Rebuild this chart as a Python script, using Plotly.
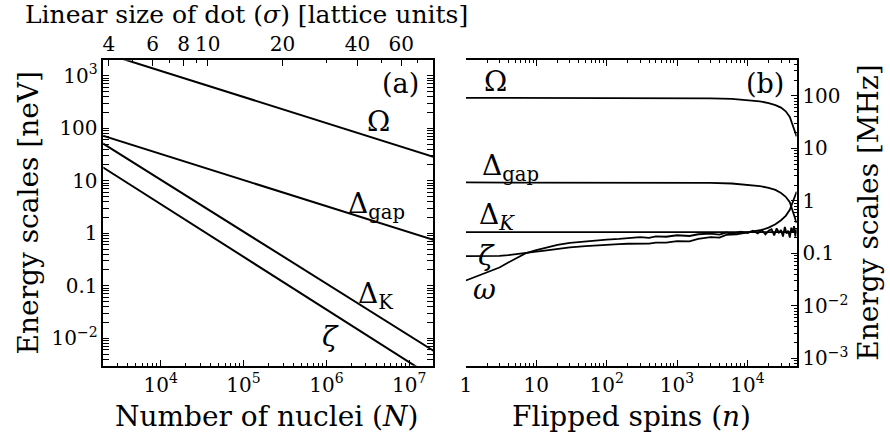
import plotly.graph_objects as go

W, H = 890, 438
FONT = "DejaVu Serif"

# ---------------- Panel (a): energy scales vs number of nuclei (neV) ----------------
N_nuclei = [2.0e3, 1.0e4, 1.0e5, 1.0e6, 1.0e7, 2.0e7]
Omega_a = [2760, 1242, 395, 126, 39.9, 28.3]
Dgap_a = [72.3, 32.5, 10.3, 3.28, 1.04, 0.74]
DK_a = [51.6, 10.5, 1.07, 0.110, 0.0112, 0.00566]
zeta_a = [18.1, 3.59, 0.356, 0.0352, 0.00349, 0.00174]

# top axis: linear size of dot sigma, N ~ 37 sigma^3
NUCLEI_PER_SIGMA3 = 37
sigma_major = [4, 6, 8, 10, 20, 40, 60]
sigma_minor = [5, 7, 9, 30, 50, 70]

# ---------------- Panel (b): energy scales vs flipped spins (MHz) ----------------
n_flip = [1, 10, 100, 1000, 3000, 6000, 10000, 15000, 20000, 25000, 30000, 35000,
          40000, 44000, 47000, 50000]
Omega_b = [92, 92, 92, 91.5, 90, 88, 84, 79, 73, 67, 60, 51, 40, 27, 20, 17]
Dgap_b = [2.25, 2.25, 2.25, 2.24, 2.2, 2.15, 2.05, 1.92, 1.78, 1.62, 1.42, 1.2,
          0.95, 0.62, 0.45, 0.38]
DK_n = [1, 50000]
DK_b = [0.254, 0.254]

zeta_n = [1, 2, 3, 4, 5, 7, 10, 15, 20, 30, 50, 70, 100, 150, 200, 300, 400, 500, 700,
          1000, 1500, 2000, 3000, 4000, 5000, 7000, 10000, 13000, 16000, 20000, 25000,
          30000, 35000, 40000, 43000, 45000, 47000, 50000]
zeta_b = [0.089, 0.089, 0.090, 0.093, 0.096, 0.103, 0.108, 0.116, 0.122, 0.130, 0.138,
          0.143, 0.148, 0.150, 0.153, 0.156, 0.154, 0.161, 0.160, 0.172, 0.170, 0.19,
          0.205, 0.20, 0.225, 0.232, 0.25, 0.262, 0.28, 0.31, 0.36, 0.43, 0.52, 0.68,
          0.9, 1.1, 1.3, 1.5]

omega_n = [1, 1.5, 2, 3, 4, 5, 7, 10, 15, 20, 30, 50, 70, 100, 150, 200, 300, 400, 500,
           700, 1000, 1500, 2000, 3000, 4000, 5000, 6000, 8000, 10000, 12000, 14000,
           16000, 18000, 20000, 22000, 24000, 26000, 28000, 30000, 32000, 34000, 36000,
           38000, 40000, 42000, 44000, 46000, 48000, 50000]
omega_b = [0.0305, 0.0375, 0.043, 0.054, 0.067, 0.079, 0.100, 0.116, 0.135, 0.146, 0.159,
           0.170, 0.178, 0.184, 0.190, 0.196, 0.205, 0.198, 0.212, 0.208, 0.222, 0.215,
           0.232, 0.238, 0.228, 0.250, 0.236, 0.260, 0.245, 0.27, 0.24, 0.28, 0.23, 0.27,
           0.29, 0.22, 0.30, 0.25, 0.28, 0.21, 0.32, 0.24, 0.27, 0.20, 0.31, 0.25, 0.33,
           0.21, 0.29]

LOG_NEV_TO_MHZ = -0.61547  # 1 neV = 0.2418 MHz

# ---------------- geometry ----------------
def px(x):
    return x / W

def py(y):
    return 1 - y / H

AX_TOP, AX_BOT = 61, 370
A_L, A_R = 98, 430
B_L, B_R = 463, 796
XA_DOM = [px(A_L), px(A_R)]
XB_DOM = [px(B_L), px(B_R)]
Y_DOM = [py(AX_BOT), py(AX_TOP)]

ylog_range = [-2.525, 3.295]
ylog_range_mhz = [v + LOG_NEV_TO_MHZ for v in ylog_range]
xa_range = [3.308, 7.288]

def minor_vals(lo, hi):
    out = []
    for e in range(lo, hi + 1):
        for k in range(2, 10):
            out.append(k * 10 ** e)
    return out

line_style = dict(color="black", width=2)
tickfont = dict(family=FONT, size=20, color="black")

fig = go.Figure()

for ys in [Omega_a, Dgap_a, DK_a, zeta_a]:
    fig.add_trace(go.Scatter(x=N_nuclei, y=ys, mode="lines", line=line_style,
                             xaxis="x", yaxis="y", showlegend=False, hoverinfo="skip"))
# invisible copy to bind the top (sigma) axis
fig.add_trace(go.Scatter(x=N_nuclei, y=Omega_a, mode="lines", opacity=0,
                         line=dict(width=0), xaxis="x2", yaxis="y",
                         showlegend=False, hoverinfo="skip"))

for xs, ys in [(n_flip, Omega_b), (n_flip, Dgap_b), (DK_n, DK_b),
               (zeta_n, zeta_b), (omega_n, omega_b)]:
    fig.add_trace(go.Scatter(x=xs, y=ys, mode="lines", line=dict(color="black", width=1.8),
                             xaxis="x3", yaxis="y4", showlegend=False, hoverinfo="skip"))

common = dict(showgrid=False, zeroline=False, showline=True, linecolor="black",
              linewidth=1.5, ticks="inside", tickcolor="black", tickwidth=1,
              ticklen=6, tickfont=tickfont)
minor_common = dict(ticks="inside", ticklen=3, tickcolor="black", tickwidth=1,
                    showgrid=False)

fig.update_layout(
    width=W, height=H, autosize=False,
    margin=dict(l=0, r=0, t=0, b=0),
    paper_bgcolor="white", plot_bgcolor="white",
    font=dict(family=FONT, color="black"),
    xaxis=dict(type="log", domain=XA_DOM, anchor="y", range=xa_range,
               tickmode="array", tickvals=[1e4, 1e5, 1e6, 1e7],
               ticktext=["10<sup>4</sup>", "10<sup>5</sup>", "10<sup>6</sup>", "10<sup>7</sup>"],
               minor=dict(tickmode="array", tickvals=minor_vals(3, 7), **minor_common),
               **common),
    xaxis2=dict(type="log", domain=XA_DOM, overlaying="x", side="top", anchor="y",
                range=xa_range,
                tickmode="array",
                tickvals=[NUCLEI_PER_SIGMA3 * s ** 3 for s in sigma_major],
                ticktext=[str(s) for s in sigma_major],
                minor=dict(tickmode="array",
                           tickvals=[NUCLEI_PER_SIGMA3 * s ** 3 for s in sigma_minor],
                           **minor_common),
                **common),
    yaxis=dict(type="log", domain=Y_DOM, anchor="x", range=ylog_range, mirror="allticks",
               tickmode="array", tickvals=[1e-2, 0.1, 1, 10, 100, 1e3],
               ticktext=["10<sup>−2</sup>", "0.1", "1", "10", "100", "10<sup>3</sup>"],
               minor=dict(tickmode="array", tickvals=minor_vals(-3, 3), **minor_common),
               **common),
    xaxis3=dict(type="log", domain=XB_DOM, anchor="y3", range=[0, 4.699],
                mirror="allticks",
                tickmode="array", tickvals=[1, 10, 100, 1e3, 1e4],
                ticktext=["1", "10", "10<sup>2</sup>", "10<sup>3</sup>", "10<sup>4</sup>"],
                minor=dict(tickmode="array", tickvals=minor_vals(0, 4), **minor_common),
                **common),
    yaxis3=dict(type="log", domain=Y_DOM, anchor="x3", range=ylog_range,
                showticklabels=False,
                tickmode="array", tickvals=[1e-2, 0.1, 1, 10, 100, 1e3],
                minor=dict(tickmode="array", tickvals=minor_vals(-3, 3), **minor_common),
                **common),
    yaxis4=dict(type="log", domain=Y_DOM, overlaying="y3", side="right", anchor="x3",
                range=ylog_range_mhz,
                tickmode="array", tickvals=[1e-3, 1e-2, 0.1, 1, 10, 100],
                ticktext=["10<sup>−3</sup>", "10<sup>−2</sup>", "0.1", "1", "10", "100"],
                minor=dict(tickmode="array", tickvals=minor_vals(-4, 2), **minor_common),
                **common),
)

def ann(text, x, y, size=28, xanchor="center", yanchor="middle", angle=0):
    fig.add_annotation(text=text, x=px(x), y=py(y), xref="paper", yref="paper",
                       showarrow=False, xanchor=xanchor, yanchor=yanchor,
                       textangle=angle, font=dict(family=FONT, size=size, color="black"))

# axis titles
ann("Linear size of dot (<i>σ</i>) [lattice units]", 242, 15, size=25)
ann("Number of nuclei (<i>N</i>)", 262, 421, size=28)
ann("Flipped spins (<i>n</i>)", 630, 421, size=28)
ann("Energy scales [neV]", 23, 215, size=28, angle=-90)
ann("Energy scales [MHz]", 868, 215, size=28, angle=-90)

# panel (a) labels
ann("(a)", 397, 84, size=27)
ann("Ω", 375, 123, size=28)
ann("Δ<sub>gap</sub>", 342, 208, size=28, xanchor="left")
ann("Δ<sub>K</sub>", 352, 299, size=28, xanchor="left")
ann("<i>ζ</i>", 327, 340, size=28)

# panel (b) labels
ann("(b)", 764, 84, size=27)
ann("Ω", 493, 82, size=28)
ann("Δ<sub>gap</sub>", 477, 169, size=28, xanchor="left")
ann("Δ<sub><i>K</i></sub>", 474, 219, size=28, xanchor="left")
ann("<i>ζ</i>", 484, 258, size=28)
ann("<i>ω</i>", 482, 293, size=28)

fig.write_html("out.html")
